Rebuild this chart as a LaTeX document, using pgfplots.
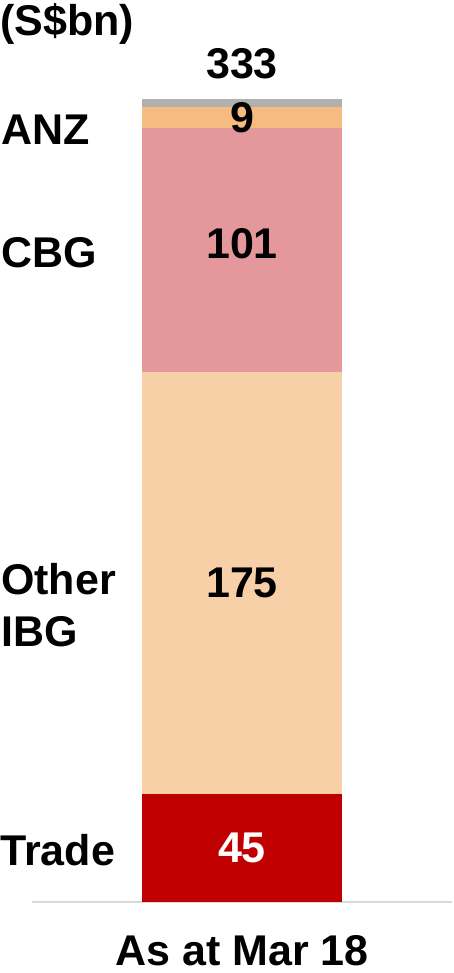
\documentclass[border=0pt]{standalone}
\usepackage{pgfplots}
\pgfplotsset{compat=1.18}
\usepackage{fontspec}
\setmainfont{Liberation Sans}
\definecolor{trade}{HTML}{C00000}
\definecolor{ibg}{HTML}{F8D0A8}
\definecolor{cbg}{HTML}{E4989C}
\definecolor{anz}{HTML}{F6BB80}
\definecolor{oth}{HTML}{B0B0B0}
\definecolor{axline}{HTML}{D9D9D9}
\newcommand{\lab}{\fontsize{43}{50}\selectfont\bfseries}
\begin{document}
\begin{tikzpicture}
\path[use as bounding box] (0pt,0pt) rectangle (454pt,973pt);
\begin{axis}[
  at={(32pt,71pt)}, anchor=south west,
  scale only axis, width=420pt, height=802.5pt,
  xmin=-1, xmax=1, ymin=0, ymax=333,
  ybar stacked, bar width=200pt,
  axis x line*=bottom, axis y line=none,
  x axis line style={axline, line width=1.2pt, -},
  xtick={0}, xticklabels={As at Mar 18}, major tick length=0pt,
  xticklabel style={font=\lab, anchor=base, inner sep=0pt, yshift=-63pt},
  ytick=\empty,
  clip=false,
]
\addplot[fill=trade, draw=none] coordinates {(0,45)};
\addplot[fill=ibg, draw=none] coordinates {(0,175)};
\addplot[fill=cbg, draw=none] coordinates {(0,101)};
\addplot[fill=anz, draw=none] coordinates {(0,9)};
\addplot[fill=oth, draw=none] coordinates {(0,3)};
\coordinate (c45) at (axis cs:0,22.5);
\coordinate (c175) at (axis cs:0,132.5);
\coordinate (c101) at (axis cs:0,273);
\coordinate (c9) at (axis cs:0,325.5);
\end{axis}
\node[font=\lab, text=white, inner sep=0pt, anchor=center] at (c45) {45};
\node[font=\lab, inner sep=0pt, anchor=center] at (c175) {175};
\node[font=\lab, inner sep=0pt, anchor=center] at (c101) {101};
\node[font=\lab, inner sep=0pt, anchor=center] at (c9) {9};
\node[font=\lab, inner sep=0pt, anchor=base] at (242pt,894pt) {333};
\node[font=\lab, inner sep=0pt, anchor=base west] at (0pt,937pt) {(S\$bn)};
\node[font=\lab, inner sep=0pt, anchor=base west] at (1pt,828pt) {ANZ};
\node[font=\lab, inner sep=0pt, anchor=base west] at (1pt,705pt) {CBG};
\node[font=\lab, inner sep=0pt, anchor=base west] at (1pt,378pt) {Other};
\node[font=\lab, inner sep=0pt, anchor=base west] at (1pt,326pt) {IBG};
\node[font=\lab, inner sep=0pt, anchor=base west] at (0pt,107pt) {Trade};
\end{tikzpicture}
\end{document}
